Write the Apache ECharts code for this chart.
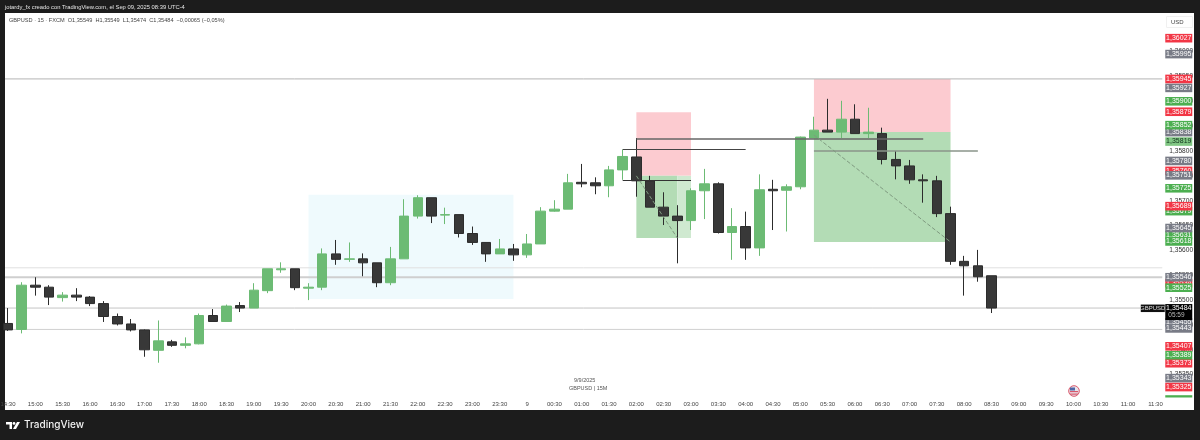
<!DOCTYPE html>
<html><head><meta charset="utf-8">
<style>
html,body{margin:0;padding:0;width:1200px;height:440px;background:#1c1c1c;overflow:hidden}
#panel{position:absolute;left:5px;top:13px;width:1189px;height:397px;background:#fff}
#c{position:absolute;left:0;top:0;width:1200px;height:440px;filter:blur(0.35px)}
</style>
<script src="https://cdn.jsdelivr.net/npm/echarts@6/dist/echarts.min.js"></script>
</head><body><div id="panel"></div><div id="c"></div>
<script>
const categories=["14:30","14:45","15:00","15:15","15:30","15:45","16:00","16:15","16:30","16:45","17:00","17:15","17:30","17:45","18:00","18:15","18:30","18:45","19:00","19:15","19:30","19:45","20:00","20:15","20:30","20:45","21:00","21:15","21:30","21:45","22:00","22:15","22:30","22:45","23:00","23:15","23:30","23:45","9","00:15","00:30","00:45","01:00","01:15","01:30","01:45","02:00","02:15","02:30","02:45","03:00","03:15","03:30","03:45","04:00","04:15","04:30","04:45","05:00","05:15","05:30","05:45","06:00","06:15","06:30","06:45","07:00","07:15","07:30","07:45","08:00","08:15","08:30","08:45","09:00","09:15","09:30","09:45","10:00","10:15","10:30","10:45","11:00","11:15","11:30"];
const opens=[1.35453,1.35441,1.35530,1.35526,1.35505,1.35510,1.35506,1.35493,1.35467,1.35452,1.35440,1.35399,1.35416,1.35409,1.35412,1.35469,1.35457,1.35489,1.35484,1.35519,1.35561,1.35563,1.35524,1.35526,1.35593,1.35582,1.35583,1.35575,1.35535,1.35583,1.35669,1.35706,1.35671,1.35672,1.35634,1.35616,1.35593,1.35603,1.35591,1.35613,1.35679,1.35683,1.35737,1.35736,1.35730,1.35762,1.35788,1.35740,1.35687,1.35669,1.35660,1.35720,1.35734,1.35636,1.35648,1.35605,1.35723,1.35721,1.35728,1.35826,1.35842,1.35838,1.35864,1.35835,1.35835,1.35783,1.35770,1.35742,1.35740,1.35674,1.35578,1.35569,1.35549];
const highs=[1.35484,1.35536,1.35546,1.35530,1.35516,1.35524,1.35508,1.35498,1.35473,1.35462,1.35441,1.35459,1.35420,1.35425,1.35473,1.35482,1.35491,1.35496,1.35534,1.35563,1.35576,1.35563,1.35534,1.35604,1.35621,1.35616,1.35594,1.35575,1.35607,1.35703,1.35711,1.35706,1.35686,1.35672,1.35648,1.35616,1.35623,1.35613,1.35633,1.35687,1.35701,1.35754,1.35774,1.35747,1.35770,1.35803,1.35826,1.35750,1.35717,1.35691,1.35725,1.35764,1.35737,1.35685,1.35678,1.35753,1.35742,1.35733,1.35829,1.35869,1.35905,1.35901,1.35894,1.35887,1.35847,1.35800,1.35782,1.35753,1.35750,1.35688,1.35589,1.35601,1.35549];
const lows=[1.35438,1.35433,1.35509,1.35490,1.35497,1.35498,1.35488,1.35456,1.35449,1.35437,1.35386,1.35374,1.35406,1.35403,1.35411,1.35457,1.35457,1.35476,1.35484,1.35514,1.35555,1.35520,1.35500,1.35520,1.35571,1.35577,1.35548,1.35526,1.35530,1.35583,1.35664,1.35655,1.35653,1.35626,1.35611,1.35577,1.35593,1.35579,1.35585,1.35613,1.35678,1.35683,1.35727,1.35713,1.35707,1.35742,1.35708,1.35687,1.35651,1.35574,1.35641,1.35663,1.35634,1.35581,1.35581,1.35589,1.35641,1.35638,1.35723,1.35826,1.35838,1.35826,1.35835,1.35826,1.35773,1.35743,1.35734,1.35696,1.35667,1.35571,1.35509,1.35537,1.35474];
const closes=[1.35440,1.35530,1.35526,1.35506,1.35510,1.35506,1.35493,1.35467,1.35452,1.35440,1.35400,1.35418,1.35409,1.35412,1.35469,1.35457,1.35488,1.35484,1.35520,1.35563,1.35563,1.35525,1.35526,1.35593,1.35582,1.35583,1.35575,1.35535,1.35583,1.35669,1.35706,1.35669,1.35672,1.35634,1.35616,1.35593,1.35603,1.35591,1.35613,1.35679,1.35683,1.35736,1.35734,1.35730,1.35762,1.35789,1.35740,1.35687,1.35669,1.35660,1.35720,1.35734,1.35636,1.35648,1.35605,1.35722,1.35720,1.35728,1.35828,1.35842,1.35838,1.35864,1.35835,1.35838,1.35783,1.35770,1.35742,1.35740,1.35674,1.35578,1.35569,1.35547,1.35484];

// Price-scale tags, drawn in this order (later ones cover earlier ones)
const tagPrices=[1.35760,1.35679,1.35631,1.35534,1.35525,1.35455,1.35300,1.36027,1.35995,1.35927,1.35945,1.35900,1.35879,1.35838,1.35852,1.35819,1.35780,1.35751,1.35725,1.35689,1.35618,1.35645,1.35546,1.35443,1.35407,1.35373,1.35389,1.35343,1.35325,1.35484];
const tagLabels=["1,35760","1,35679","1,35631","1,35534","1,35525","1,35455","","1,36027","1,35995","1,35927","1,35945","1,35900","1,35879","1,35838","1,35852","1,35819","1,35780","1,35751","1,35725","1,35689","1,35618","1,35645","1,35546","1,35443","1,35407","1,35373","1,35389","1,35343","1,35325","1,35484"];
const tagKinds=["red","green","green","red","green","grey","peek","red","grey","grey","red","green","red","grey","green","soft","grey","grey","green","red","green","grey","grey","grey","red","red","green","grey","red","last"];
const tagColors={red:"#f23645",green:"#4caf50",peek:"#4caf50",grey:"#787b86",soft:"#81c784",last:"#000000"};
const countdown="05:59", symbolName="GBPUSD";

const levelPrices=[1.35945,1.35565,1.35546,1.35484,1.35441];
const levelColors=["#b4b4b4","#e0e0e0","#cfcfcf","#c4c4c4","#d0d0d0"];
const levelWidths=[1,1,2,1,1];
const segLines=[
 ["01:45",1.35804,"04:00",1.35804,"#444444",1,"solid"],
 ["01:45",1.35742,"03:00",1.35742,"#333333",1,"solid"],
 ["02:00",1.35824,"07:15",1.35824,"#666666",1.5,"solid"],
 ["05:15",1.35800,"08:15",1.35800,"#8a948a",1.5,"solid"],
 ["02:00",1.35750,"02:45",1.35625,"#7f9a80",1,"dashed"],
 ["05:15",1.35832,"07:45",1.35617,"#7f9a80",1,"dashed"]];
const boxes=[
 ["20:00",1.35712,"23:45",1.35502,"#effafd"],
 ["02:00",1.35878,"03:00",1.35750,"#fccbd0"],
 ["02:00",1.35750,"02:45",1.35625,"#b3dcb5"],
 ["02:45",1.35750,"03:00",1.35625,"#cfe9d0"],
 ["05:15",1.35945,"07:45",1.35838,"#fccbd0"],
 ["05:15",1.35838,"07:45",1.35617,"#b3dcb5"]];

const legendText="GBPUSD · 15 · FXCM  O1,35549  H1,35549  L1,35474  C1,35484  −0,00065 (−0,05%)";
const headerText="jotardy_fx creado con TradingView.com, el Sep 09, 2025 08:39 UTC-4";
const FONT='"Liberation Sans","Noto Sans",sans-serif';
const band=13.66;
const firstCat=categories[0];

const chart=echarts.init(document.getElementById('c'),null,{renderer:'canvas'});
const candleData=opens.map((o,i)=>[o,closes[i],lows[i],highs[i]]);
chart.setOption({
 animation:false,backgroundColor:'transparent',
 grid:{left:1.17,top:1.9,width:categories.length*band,height:397.6,outerBoundsMode:'none'},
 xAxis:{type:'category',data:categories,boundaryGap:true,
  axisLine:{show:false},axisTick:{show:false},splitLine:{show:false},
  axisLabel:{interval:1,margin:2,fontSize:6,color:'#444',fontFamily:FONT}},
 yAxis:{type:'value',position:'right',min:1.353,max:1.361,interval:0.0005,scale:true,
  axisLine:{show:false},axisTick:{show:false},splitLine:{show:false},
  axisLabel:{margin:7,fontSize:6.6,color:'#333',fontFamily:FONT,
   formatter:v=>(v<1.3532||v>1.3602)?'':v.toFixed(5).replace('.',',')}},
 series:[
  {type:'line',name:'boxes',z:1,silent:true,symbol:'none',lineStyle:{width:0},
   data:[[firstCat,tagPrices[0]]],
   markArea:{silent:true,z:1,data:boxes.map(b=>[{coord:[b[0],b[1]],itemStyle:{color:b[4],opacity:1}},{coord:[b[2],b[3]]}])}},
  {type:'custom',name:'levels',z:2,silent:true,clip:false,
   data:levelPrices.map((p,i)=>[0,p,i]),encode:{x:0,y:1},
   renderItem:(params,api)=>{
    const i=api.value(2),y=api.coord([0,api.value(1)])[1],cs=params.coordSys;
    return {type:'line',shape:{x1:5,y1:y,x2:cs.x+cs.width,y2:y},style:{stroke:levelColors[i],lineWidth:levelWidths[i]}};
   }},
  {type:'candlestick',name:'GBPUSD',z:3,data:candleData,barWidth:10,
   itemStyle:{color:'#6cbb74',color0:'#383838',borderColor:'#6cbb74',borderColor0:'#2c2c2c',borderWidth:1},
   markLine:{silent:true,z:5,symbol:'none',label:{show:false},
    data:segLines.map(s=>[{coord:[s[0],s[1]],lineStyle:{color:s[4],width:s[5],type:s[6]}},{coord:[s[2],s[3]]}])}},
  {type:'custom',name:'tags',z:8,silent:true,clip:false,
   data:tagPrices.map((p,i)=>[categories.length-1,p,i]),encode:{x:0,y:1},
   renderItem:(params,api)=>{
    const i=api.value(2),k=tagKinds[i],y=api.coord([0,api.value(1)])[1];
    const x=params.coordSys.x+params.coordSys.width+3,w=27,h=8.6;
    const fg=k==='soft'?'#10331a':'#fff';
    const kids=[];
    if(k==='last'){
     kids.push({type:'rect',shape:{x:x-24.5,y:y-3.5,width:24,height:7.5},style:{fill:'#111'}});
     kids.push({type:'text',style:{x:x-12.5,y:y,text:symbolName,fill:'#ddd',font:'6px '+FONT,textAlign:'center',textVerticalAlign:'middle'}});
     kids.push({type:'rect',shape:{x,y:y-4,width:w,height:16},style:{fill:'#000'}});
     kids.push({type:'text',style:{x:x+13.5,y:y,text:tagLabels[i],fill:'#fff',font:'7px '+FONT,textAlign:'center',textVerticalAlign:'middle'}});
     kids.push({type:'text',style:{x:x+3,y:y+7.5,text:countdown,fill:'#bbb',font:'6.5px '+FONT,textAlign:'left',textVerticalAlign:'middle'}});
    }else if(k==='peek'){
     kids.push({type:'rect',shape:{x,y:y-h/2,width:w,height:2.3},style:{fill:tagColors[k]}});
    }else{
     kids.push({type:'rect',shape:{x,y:y-h/2,width:w,height:h},style:{fill:tagColors[k]}});
     kids.push({type:'text',style:{x:x+13.5,y:y,text:tagLabels[i],fill:fg,font:'7px '+FONT,textAlign:'center',textVerticalAlign:'middle'}});
    }
    return {type:'group',children:kids};
   }}
 ],
 graphic:{z:100,elements:[
  {type:'rect',left:0,top:0,shape:{width:1200,height:13},style:{fill:'#1c1c1c'}},
  {type:'rect',left:0,top:0,shape:{width:5,height:440},style:{fill:'#1c1c1c'}},
  {type:'rect',left:1194,top:0,shape:{width:6,height:440},style:{fill:'#1c1c1c'}},
  {type:'rect',left:0,top:410,shape:{width:1200,height:30},style:{fill:'#1c1c1c'}},
  {type:'text',left:5,top:4,style:{text:headerText,fill:'#e6e6e6',font:'5.8px '+FONT}},
  {type:'text',left:9,top:17,style:{text:legendText,fill:'#444',font:'5.6px '+FONT}},
  {type:'rect',left:1166,top:16,shape:{width:26,height:11},style:{fill:'#fff',stroke:'#f0f0f0',lineWidth:1}},
  {type:'text',left:1171,top:19,style:{text:'USD',fill:'#444',font:'6px '+FONT}},
  {type:'text',left:574,top:377,style:{text:'9/9/2025',fill:'#555',font:'5.5px '+FONT,align:'left'}},
  {type:'text',left:569,top:385,style:{text:'GBPUSD | 15M',fill:'#555',font:'5.5px '+FONT}},
  {type:'circle',shape:{cx:1074,cy:391,r:5.3},style:{fill:'#e9e4ea',stroke:'#d9566a',lineWidth:1}},
  {type:'rect',left:1070,top:391,shape:{width:8,height:1.2},style:{fill:'#d9566a'}},
  {type:'rect',left:1070,top:393.5,shape:{width:8,height:1.2},style:{fill:'#d9566a'}},
  {type:'rect',left:1070,top:387.5,shape:{width:5,height:3},style:{fill:'#4f67a8'}},
  {type:'polygon',shape:{points:[[6,422],[12,422],[12,429],[9.5,429],[9.5,424.5],[6,424.5]]},style:{fill:'#fff'}},
  {type:'circle',shape:{cx:14,cy:423.4,r:1.4},style:{fill:'#fff'}},
  {type:'polygon',shape:{points:[[13,429],[17,422],[20,422],[16,429]]},style:{fill:'#fff'}},
  {type:'text',left:24,top:419.5,style:{text:'TradingView',fill:'#f2f2f2',font:'500 10px Inter,Roboto,sans-serif'}}
 ]}
});
</script></body></html>
